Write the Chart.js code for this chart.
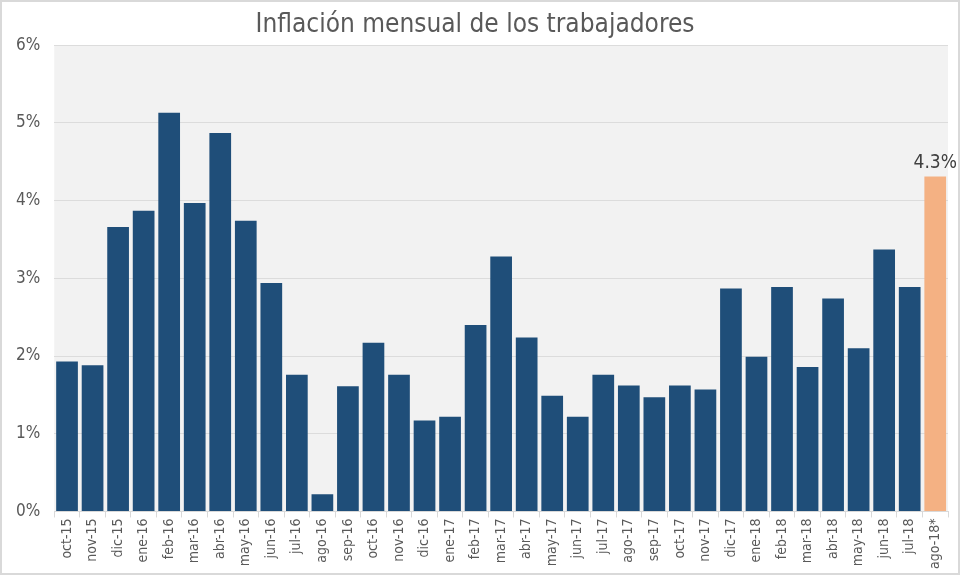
<!DOCTYPE html>
<html>
<head>
<meta charset="utf-8">
<script src="https://cdn.jsdelivr.net/npm/chart.js@4"></script>
<style>
  html, body { margin: 0; padding: 0; background: #fff; }
  #wrap { position: relative; width: 956px; height: 571px; border: 2px solid #d9d9d9; }
</style>
</head>
<body>
<div id="wrap"><canvas id="inflacion-chart"></canvas></div>
<script>
// Datos
const meses = ['oct-15', 'nov-15', 'dic-15', 'ene-16', 'feb-16', 'mar-16', 'abr-16', 'may-16', 'jun-16',
    'jul-16', 'ago-16', 'sep-16', 'oct-16', 'nov-16', 'dic-16', 'ene-17', 'feb-17', 'mar-17', 'abr-17',
    'may-17', 'jun-17', 'jul-17', 'ago-17', 'sep-17', 'oct-17', 'nov-17', 'dic-17', 'ene-18', 'feb-18',
    'mar-18', 'abr-18', 'may-18', 'jun-18', 'jul-18', 'ago-18*'];
const inflacion = [1.93, 1.88, 3.66, 3.87, 5.13, 3.97, 4.87, 3.74, 2.94,
    1.76, 0.22, 1.61, 2.17, 1.76, 1.17, 1.22, 2.40, 3.28, 2.24,
    1.49, 1.22, 1.76, 1.62, 1.47, 1.62, 1.57, 2.87, 1.99, 2.89,
    1.86, 2.74, 2.10, 3.37, 2.89, 4.31];
const yTicks = [0, 1, 2, 3, 4, 5, 6];

const azul = '#1f4e79';
const naranja = '#f4b183';
const gris = '#595959';
const fuente = '"DejaVu Sans Condensed", "Roboto", sans-serif';

const colores = inflacion.map((v, i) => i === inflacion.length - 1 ? naranja : azul);

// Fondo gris del área del gráfico
const fondoPlugin = {
    id: 'fondo',
    beforeDraw(chart) {
        const { ctx, chartArea } = chart;
        ctx.save();
        ctx.fillStyle = '#f2f2f2';
        ctx.fillRect(chartArea.left, chartArea.top, chartArea.right - chartArea.left, chartArea.bottom - chartArea.top);
        ctx.restore();
    }
};

// Etiqueta del último dato
const etiquetaPlugin = {
    id: 'etiqueta',
    afterDatasetsDraw(chart) {
        const { ctx } = chart;
        const meta = chart.getDatasetMeta(0);
        const i = inflacion.length - 1;
        const bar = meta.data[i];
        ctx.save();
        ctx.font = '19px ' + fuente;
        ctx.fillStyle = '#404040';
        ctx.textAlign = 'center';
        ctx.textBaseline = 'bottom';
        ctx.fillText(inflacion[i].toFixed(1) + '%', bar.x, bar.y - 4);
        ctx.restore();
    }
};

const ctx = document.getElementById('inflacion-chart').getContext('2d');
new Chart(ctx, {
    type: 'bar',
    data: {
        labels: meses,
        datasets: [{
            data: inflacion,
            backgroundColor: colores,
            borderWidth: 0,
            categoryPercentage: 1,
            barPercentage: 0.85
        }]
    },
    options: {
        responsive: true,
        maintainAspectRatio: false,
        animation: false,
        layout: { padding: { left: 0, right: 10, top: 0, bottom: 3 } },
        plugins: {
            legend: { display: false },
            tooltip: { enabled: false },
            title: {
                display: true,
                text: 'Inflación mensual de los trabajadores',
                color: gris,
                font: { family: fuente, size: 26, weight: 'normal' },
                padding: { top: 8, bottom: 4 }
            }
        },
        scales: {
            x: {
                grid: {
                    display: true,
                    offset: true,
                    drawOnChartArea: false,
                    tickLength: 6,
                    color: '#d9d9d9'
                },
                border: { color: '#d9d9d9' },
                ticks: {
                    color: gris,
                    font: { family: fuente, size: 14 },
                    maxRotation: 90,
                    minRotation: 90,
                    autoSkip: false,
                    padding: 1
                }
            },
            y: {
                min: 0,
                max: 6,
                afterBuildTicks(axis) {
                    axis.ticks = yTicks.map(v => ({ value: v }));
                },
                grid: { color: '#dcdcdc', drawTicks: false },
                border: { display: false },
                ticks: {
                    color: gris,
                    font: { family: fuente, size: 17 },
                    padding: 14,
                    callback: v => v + '%'
                }
            }
        }
    },
    plugins: [fondoPlugin, etiquetaPlugin]
});
</script>
</body>
</html>
